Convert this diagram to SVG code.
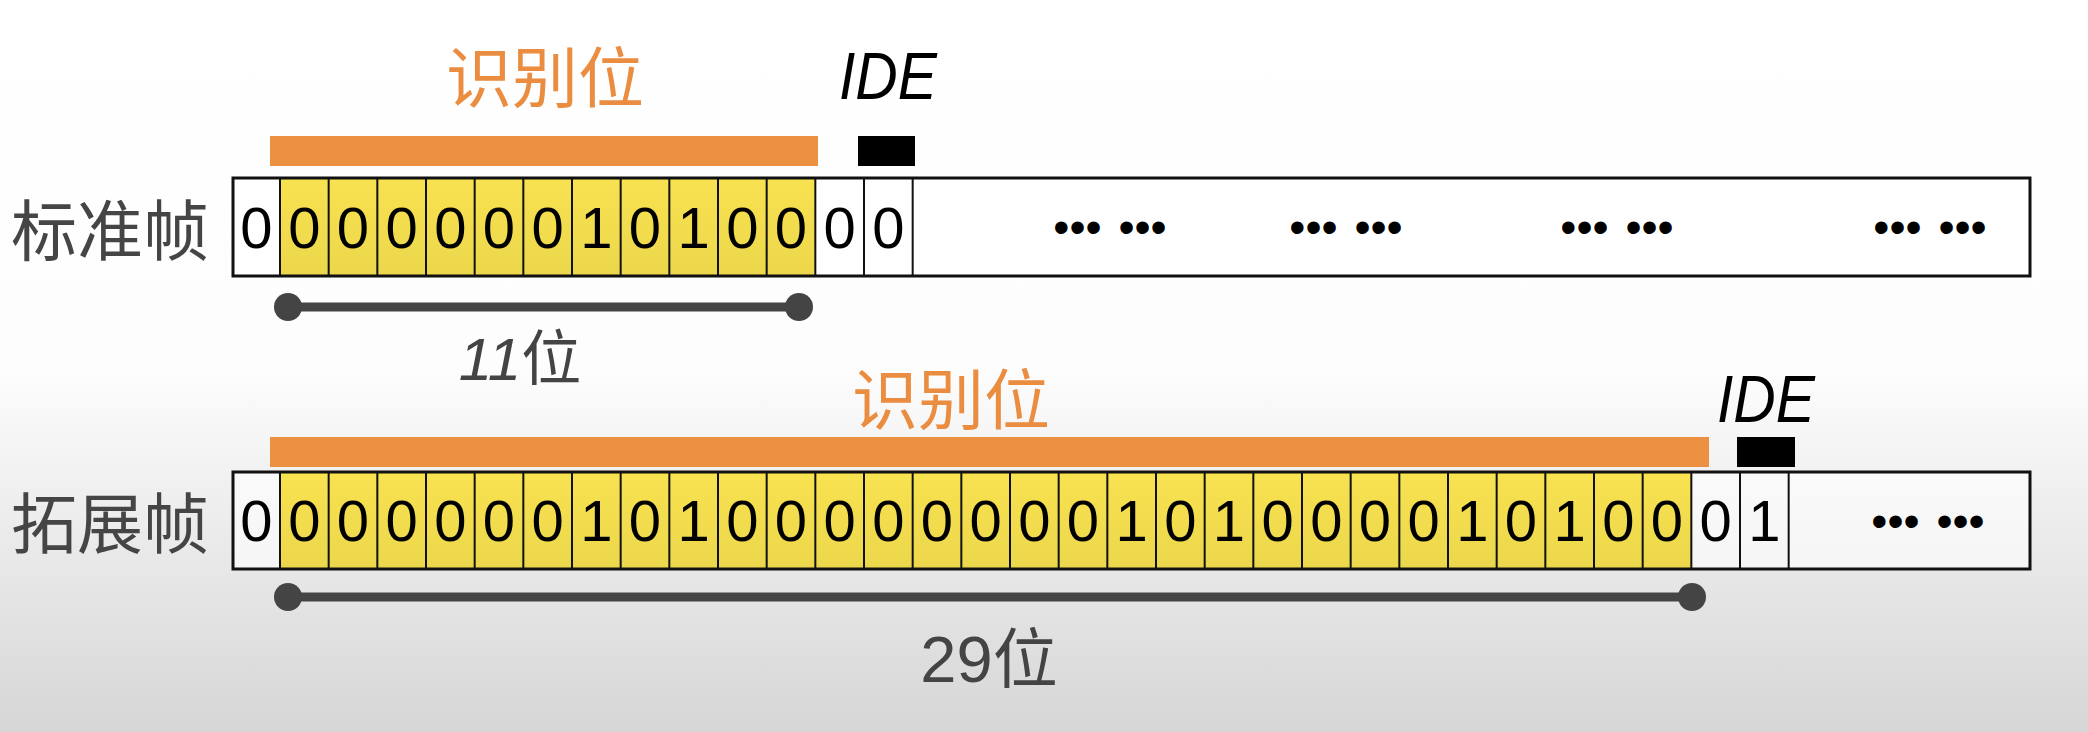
<svg xmlns="http://www.w3.org/2000/svg" width="2088" height="732" viewBox="0 0 2088 732">
  <defs>
    <linearGradient id="bg" x1="0" y1="0" x2="0" y2="1">
      <stop offset="0" stop-color="#ffffff"/>
      <stop offset="0.5" stop-color="#fdfdfd"/>
      <stop offset="1" stop-color="#d6d6d6"/>
    </linearGradient>
    <linearGradient id="yel" x1="0" y1="0" x2="0" y2="1">
      <stop offset="0" stop-color="#f8e250"/>
      <stop offset="1" stop-color="#ecd74c"/>
    </linearGradient>
  </defs>
  <style>
    .cjk { font-family: "Noto Sans CJK SC", "Noto Sans", sans-serif; }
    .lab { fill: #454545; font-size: 66px; }
    .org { fill: #ea8d40; font-size: 66px; }
    .bar { fill: #ec9041; }
    .ide { fill: #000; }
    .idet { font-family: "Liberation Sans", Arial, sans-serif; font-style: italic; font-size: 66px; fill: #000; }
    .bits { font-family: "Liberation Sans", Arial, sans-serif; font-size: 58px; fill: #000; text-anchor: middle; }
    .dots { font-family: "Liberation Sans", Arial, sans-serif; font-size: 46px; fill: #000; text-anchor: middle; word-spacing: 4px; }
    .outer { fill: none; stroke: #111; stroke-width: 3; }
    .sep { fill: none; stroke: #111; stroke-width: 2; }
    .dim { stroke: #444; stroke-width: 9; fill: none; }
    .dimend { fill: #444; }
    .dimt { font-family: "Liberation Sans", Arial, "Noto Sans CJK SC", sans-serif; fill: #444; text-anchor: middle; }
  </style>
  <rect x="0" y="0" width="2088" height="732" fill="url(#bg)"/>

  <g id="label-standard">
    <text class="cjk lab" x="11" y="255">标准帧</text>
  </g>
  <g id="label-extended">
    <text class="cjk lab" x="11" y="548">拓展帧</text>
  </g>

  <g id="std-id-marker">
    <rect class="bar" x="270" y="136" width="548" height="30"/>
    <text class="cjk org" x="545" y="102" text-anchor="middle">识别位</text>
  </g>
  <g id="std-ide-marker">
    <rect class="ide" x="858" y="136" width="57" height="30"/>
    <text class="idet" transform="translate(839,99) scale(0.89,1)">IDE</text>
  </g>

  <g id="std-frame">
    <rect x="233" y="178" width="1797" height="98" fill="#ffffff"/>
    <rect x="280" y="178" width="535.33" height="98" fill="url(#yel)"/>
    <path class="sep" d="M280 178V276M328.67 178V276M377.33 178V276M426 178V276M474.67 178V276M523.33 178V276M572 178V276M620.67 178V276M669.33 178V276M718 178V276M766.67 178V276M815.33 178V276M864 178V276M912.67 178V276"/>
    <rect class="outer" x="233" y="178" width="1797" height="98"/>
    <text class="bits" x="256.5 304.3 353 401.7 450.3 499 547.7 596.3 645 693.7 742.3 791 839.7 888.3" y="248">00000001010000</text>
    <text class="dots" x="1110" y="243">••• •••</text>
    <text class="dots" x="1346" y="243">••• •••</text>
    <text class="dots" x="1617" y="243">••• •••</text>
    <text class="dots" x="1930" y="243">••• •••</text>
  </g>

  <g id="ext-id-marker">
    <rect class="bar" x="270" y="437" width="1439" height="30"/>
    <text class="cjk org" x="951" y="424" text-anchor="middle">识别位</text>
  </g>
  <g id="ext-ide-marker">
    <rect class="ide" x="1737" y="437" width="58" height="30"/>
    <text class="idet" transform="translate(1717,422) scale(0.89,1)">IDE</text>
  </g>

  <g id="ext-frame">
    <rect x="233" y="472" width="1797" height="97" fill="#ffffff" fill-opacity="0.6"/>
    <rect x="280" y="472" width="1411.33" height="97" fill="url(#yel)"/>
    <path class="sep" d="M280 472V569M328.67 472V569M377.33 472V569M426 472V569M474.67 472V569M523.33 472V569M572 472V569M620.67 472V569M669.33 472V569M718 472V569M766.67 472V569M815.33 472V569M864 472V569M912.67 472V569M961.33 472V569M1010 472V569M1058.67 472V569M1107.33 472V569M1156 472V569M1204.67 472V569M1253.33 472V569M1302 472V569M1350.67 472V569M1399.33 472V569M1448 472V569M1496.67 472V569M1545.33 472V569M1594 472V569M1642.67 472V569M1691.33 472V569M1740 472V569M1788.67 472V569"/>
    <rect class="outer" x="233" y="472" width="1797" height="97"/>
    <text class="bits" x="256.5 304.3 353 401.7 450.3 499 547.7 596.3 645 693.7 742.3 791 839.7 888.3 937 985.7 1034.3 1083 1131.7 1180.3 1229 1277.7 1326.3 1375 1423.7 1472.3 1521 1569.7 1618.3 1667 1715.7 1764.3" y="541">00000001010000000010100001010001</text>
    <text class="dots" x="1928" y="537">••• •••</text>
  </g>

  <g id="connectors">
    <g id="dim-11">
      <line class="dim" x1="288" y1="307" x2="799" y2="307"/>
      <circle class="dimend" cx="288" cy="307" r="14"/>
      <circle class="dimend" cx="799" cy="307" r="14"/>
    </g>
    <g id="dim-29">
      <line class="dim" x1="288" y1="597" x2="1692" y2="597"/>
      <circle class="dimend" cx="288" cy="597" r="14"/>
      <circle class="dimend" cx="1692" cy="597" r="14"/>
    </g>
  </g>

  <g id="label-11">
    <text class="dimt" x="520" y="380" font-size="60"><tspan font-style="italic">11</tspan><tspan font-family="Noto Sans CJK SC, sans-serif">位</tspan></text>
  </g>
  <g id="label-29">
    <text class="dimt" x="989" y="682" font-size="65"><tspan>29</tspan><tspan font-family="Noto Sans CJK SC, sans-serif">位</tspan></text>
  </g>
</svg>
